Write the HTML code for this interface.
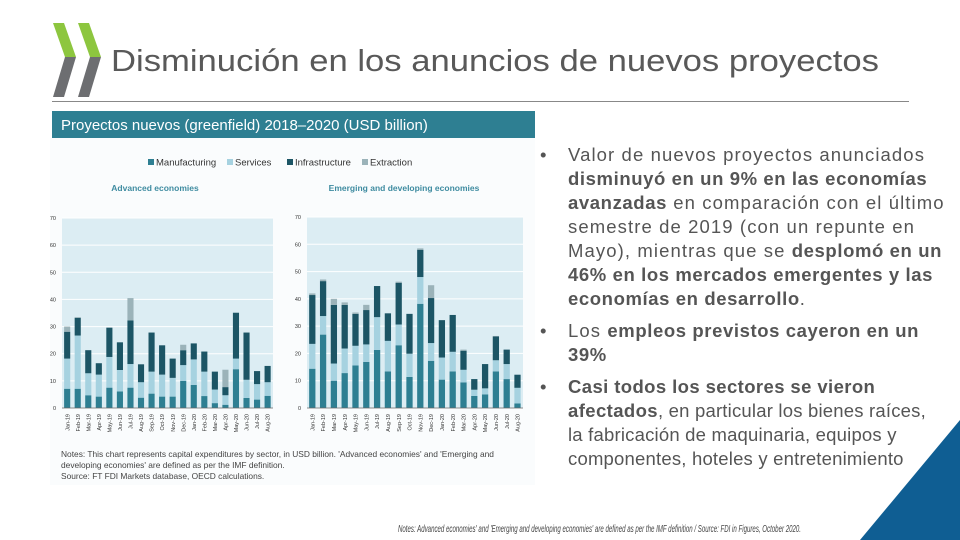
<!DOCTYPE html>
<html><head><meta charset="utf-8"><style>
body{margin:0;width:960px;height:540px;overflow:hidden;background:#fff;font-family:"Liberation Sans",sans-serif;position:relative}
.abs{position:absolute}
#rule{left:52px;top:101px;width:857px;height:1px;background:#888}
#hdr{left:52px;top:111px;width:483px;height:27px;background:#2e7f92;color:#fff;font-size:15px;line-height:29px;padding-left:9px;box-sizing:border-box}
ul{margin:0;padding:0;list-style:none}
#bul{left:540px;top:143px;width:420px;font-size:18.5px;letter-spacing:1.1px;line-height:24px;color:#555;white-space:nowrap}
#bul li{position:relative;padding-left:28px;margin-bottom:8px}
#bul li:before{content:"•";position:absolute;left:0;top:0}
#bul b{color:#555;letter-spacing:0.6px}
#bul li.b3{letter-spacing:0.2px}
#bul li.b3 b{letter-spacing:0.4px}
</style></head><body>
<svg class="abs" style="left:0;top:0" width="120" height="110">
<polygon points="53,23 64,23 76,57 65,57" fill="#8dc63f"/><polygon points="65,57 76,57 64,97 53,97" fill="#6d6e71"/>
<polygon points="78,23 89,23 101,57 90,57" fill="#8dc63f"/><polygon points="90,57 101,57 89,97 78,97" fill="#6d6e71"/>
</svg>
<svg class="abs" style="left:0;top:0" width="960" height="100">
<text x="111" y="71" font-size="31" fill="#595959" textLength="768" lengthAdjust="spacingAndGlyphs">Disminución en los anuncios de nuevos proyectos</text>
</svg>
<div id="rule" class="abs"></div>
<div id="hdr" class="abs">Proyectos nuevos (greenfield) 2018–2020 (USD billion)</div>
<svg id="chart" class="abs" style="left:0;top:0" width="540" height="490"></svg>
<ul id="bul" class="abs">
<li>Valor de nuevos proyectos anunciados<br><b>disminuyó en un 9% en las economías</b><br><b>avanzadas</b> en comparación con el último<br>semestre de 2019 (con un repunte en<br>Mayo), mientras que se <b>desplomó en un</b><br><b>46% en los mercados emergentes y las</b><br><b>economías en desarrollo</b>.</li>
<li>Los <b>empleos previstos cayeron en un</b><br><b>39%</b></li>
<li class="b3"><b>Casi todos los sectores se vieron</b><br><b>afectados</b>, en particular los bienes raíces,<br>la fabricación de maquinaria, equipos y<br>componentes, hoteles y entretenimiento</li>
</ul>
<svg class="abs" style="left:0;top:0" width="960" height="540"><polygon points="960,420 960,540 860,540" fill="#0f5e93"/>
<text x="398" y="532" font-size="10" font-style="italic" fill="#444" textLength="403" lengthAdjust="spacingAndGlyphs">Notes: Advanced economies' and 'Emerging and developing economies' are defined as per the IMF definition / Source: FDI in Figures, October 2020.</text></svg>
<script>
const months=["Jan-19","Feb-19","Mar-19","Apr-19","May-19","Jun-19","Jul-19","Aug-19","Sep-19","Oct-19","Nov-19","Dec-19","Jan-20","Feb-20","Mar-20","Apr-20","May-20","Jun-20","Jul-20","Aug-20"];
const yTicks=[0,10,20,30,40,50,60,70];
const advManuf=[7.1,7.1,4.7,4.2,7.5,6.1,7.5,3.8,5.3,4.2,4.2,10,8.5,4.4,1.8,1.2,14.3,3.7,3.1,4.5];
const advServ=[11.1,19.6,8.1,8.1,11.3,7.9,8.7,5.7,8.1,8.1,6.9,5.8,9.4,9,5,3.5,3.9,6.7,5.7,5];
const advInfra=[9.9,6.5,8.5,4.2,10.8,10.2,16.1,6.6,14.4,10.8,7.1,5.5,5.9,7.4,6.6,3,16.9,17.4,4.8,6];
const advExtr=[1.9,0.3,0,0,0,0,8.2,0,0,0,0,2,0,0,0,6.4,0,0,0,0];
const emgManuf=[14.4,26.9,10,12.8,15.6,16.9,21.3,13.4,23,11.4,38.2,17.3,10.4,13.4,9.4,4.4,5,13.4,10.6,1.7];
const emgServ=[9.1,6.8,6.3,9,7.2,6.4,12,11.2,7.6,8.5,9.8,6.5,8.1,7.2,4.6,2.3,2.2,4.1,5.5,5.7];
const emgInfra=[17.9,12.8,21.5,16,11.7,12.6,11.4,10.1,15.3,14.6,10,16.5,13.7,13.5,7,3.9,8.9,8.7,5.3,4.8];
const emgExtr=[0.6,0.6,2.2,0.9,0.5,1.9,0,0,0.4,0,0.5,4.7,0,0,0.4,0,0,0.2,0,0];
const cols=["#2e7f92","#a6d2e0","#1c5565","#9bb3b9"];
const NS="http://www.w3.org/2000/svg";
const svg=document.getElementById('chart');
function mk(t,a){const e=document.createElementNS(NS,t);for(const k in a)e.setAttribute(k,a[k]);svg.appendChild(e);return e;}
let bg=mk('rect',{x:50,y:138,width:485,height:347,fill:'#fafcfd'});


const leg=["Manufacturing","Services","Infrastructure","Extraction"];
let lx=[148,227,287,362];
leg.forEach((l,i)=>{let r=mk('rect',{x:lx[i],y:159,width:6,height:6,fill:cols[i]});


let t=mk('text',{x:lx[i]+8,y:165.5,'font-size':9.5,fill:'#333'});t.textContent=l;

});
function panel(x0,x1,y0,y1,title,tx,series,name){
 let t=mk('text',{x:tx,y:191,'font-size':8.5,'font-weight':'bold',fill:'#3e8ba0','text-anchor':'middle'});t.textContent=title;
 
 
 let p=mk('rect',{x:x0,y:y1,width:x1-x0,height:y0-y1,fill:'#dcedf3'});
 
 
 const ys=v=>y0-(v/70)*(y0-y1);
 const slot=(x1-x0)/months.length;
 const xs=i=>x0+slot*i;
 yTicks.forEach(v=>{let g=mk('line',{x1:x0,x2:x1,y1:ys(v),y2:ys(v),stroke:'#fff','stroke-width':1});
  
  
  let l=mk('text',{x:x0-6,y:ys(v)+2,'font-size':5.5,fill:'#333','text-anchor':'end'});l.textContent=v;
  
  });
 months.forEach((m,i)=>{
  let cum=0;
  series.forEach((s,k)=>{const v=s[i];if(v<=0)return;
   let r=mk('rect',{x:xs(i)+slot*0.2,y:ys(cum+v),width:slot*0.58,height:ys(cum)-ys(cum+v),fill:cols[k]});
   
   
   cum+=v;});
  let cx=xs(i)+slot*0.5;
  let l=mk('text',{x:cx,y:y0+4,'font-size':5.5,fill:'#333','text-anchor':'end',transform:`rotate(-90 ${cx+2} ${y0+4})`});l.textContent=m;
  
  
 });
 let ax=mk('line',{x1:x0,x2:x1,y1:y0,y2:y0,stroke:'#666','stroke-width':0.7});
 
 
}
panel(62,273,408,218,"Advanced economies",155,[advManuf,advServ,advInfra,advExtr],'advanced');
panel(307,523,408,217,"Emerging and developing economies",404,[emgManuf,emgServ,emgInfra,emgExtr],'emerging');
const notes=["Notes: This chart represents capital expenditures by sector, in USD billion. 'Advanced economies' and 'Emerging and","developing economies' are defined as per the IMF definition.","Source: FT FDI Markets database, OECD calculations."];
notes.forEach((n,i)=>{let t=mk('text',{x:61,y:457+i*11,'font-size':8.4,fill:'#444'});t.textContent=n;

});
</script>
</body></html>
